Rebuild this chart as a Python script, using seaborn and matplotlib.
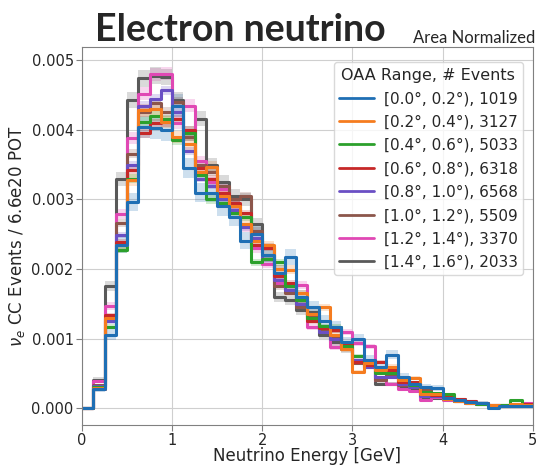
import numpy as np
import pandas as pd
import matplotlib
matplotlib.use("Agg")
import matplotlib.pyplot as plt
from matplotlib.lines import Line2D
import seaborn as sns

# ---------------- data ----------------
bin_width = 0.125
energy_min = 0.0
energy_max = 5.0

labels = ["[0.0°, 0.2°), 1019", "[0.2°, 0.4°), 3127", "[0.4°, 0.6°), 5033",
          "[0.6°, 0.8°), 6318", "[0.8°, 1.0°), 6568", "[1.0°, 1.2°), 5509",
          "[1.2°, 1.4°), 3370", "[1.4°, 1.6°), 2033"]
n_events = [1019, 3127, 5033, 6318, 6568, 5509, 3370, 2033]

# values in units of 1e-4, one per 0.125 GeV bin from 0 to 5 GeV
blue = [0.0, 2.8, 10.6, 23.5, 29.6, 40.4, 40.2, 40.0, 43.5, 34.5,
        31.0, 31.0, 29.0, 27.5, 24.1, 25.0, 22.0, 19.5, 21.7, 16.0,
        14.5, 12.5, 11.7, 9.5, 9.9, 7.0, 6.0, 7.7, 4.5, 3.5,
        3.1, 2.9, 1.5, 1.2, 0.9, 0.8, 0.0, 0.3, 0.4, 0.4]
orange = [0.0, 2.9, 13.0, 23.4, 32.8, 42.8, 43.0, 41.1, 39.0, 38.0,
          34.0, 34.7, 30.5, 29.0, 26.5, 24.0, 23.4, 20.0, 19.9, 16.5,
          13.5, 14.5, 10.5, 8.5, 5.2, 6.5, 5.5, 6.0, 4.0, 4.3,
          2.0, 2.0, 1.4, 1.0, 0.8, 0.7, 0.5, 0.4, 0.6, 0.5]
green = [0.0, 3.0, 11.7, 22.8, 33.0, 41.1, 42.0, 41.5, 38.5, 39.5,
         33.5, 30.0, 29.5, 28.0, 27.5, 21.0, 21.5, 21.0, 17.5, 15.5,
         13.0, 11.8, 11.7, 9.0, 7.5, 6.8, 5.0, 5.0, 4.3, 3.3,
         2.3, 2.2, 2.0, 1.1, 0.9, 0.6, 0.4, 0.5, 1.2, 0.4]
red = [0.0, 2.8, 13.4, 23.9, 34.2, 39.5, 41.0, 41.1, 41.5, 40.0,
       34.5, 33.0, 31.0, 29.5, 28.0, 23.5, 23.0, 19.0, 18.0, 15.5,
       12.5, 11.5, 11.2, 9.3, 6.7, 6.2, 6.7, 5.5, 3.8, 3.8,
       2.0, 1.9, 1.6, 1.3, 1.0, 0.8, 0.5, 0.4, 0.4, 0.6]
purple = [0.0, 3.2, 12.5, 24.9, 35.0, 43.5, 44.5, 45.7, 42.5, 37.0,
          33.0, 32.0, 30.0, 28.5, 26.0, 24.5, 21.5, 18.5, 17.0, 15.0,
          12.8, 11.0, 10.0, 9.2, 7.0, 6.0, 4.5, 4.5, 3.5, 3.0,
          1.8, 1.8, 1.4, 1.0, 0.8, 0.7, 0.4, 0.5, 0.5, 0.5]
brown = [0.0, 3.3, 13.0, 26.6, 36.6, 42.5, 43.8, 42.6, 44.0, 39.0,
         35.0, 34.0, 32.0, 30.0, 30.5, 25.5, 23.2, 17.5, 16.5, 14.5,
         13.2, 11.2, 10.2, 8.8, 6.5, 6.3, 4.0, 4.8, 3.3, 3.2,
         2.6, 1.7, 1.8, 1.3, 0.9, 0.6, 0.5, 0.3, 0.6, 0.4]
pink = [0.0, 3.9, 14.7, 27.9, 38.8, 45.2, 48.0, 48.1, 41.0, 43.5,
        35.5, 32.5, 31.5, 29.0, 26.0, 23.0, 20.8, 18.0, 17.0, 17.7,
        11.7, 11.5, 8.8, 11.0, 9.4, 8.9, 4.0, 3.5, 2.8, 2.5,
        1.2, 1.6, 1.2, 1.1, 1.1, 0.8, 0.4, 0.4, 0.3, 0.8]
gray = [0.0, 4.1, 17.6, 32.9, 44.3, 47.4, 47.8, 47.6, 44.3, 39.5,
        41.6, 35.0, 32.5, 30.5, 30.0, 26.5, 22.0, 16.0, 15.5, 14.1,
        13.8, 10.5, 9.5, 8.5, 6.7, 6.0, 3.5, 3.5, 2.9, 2.6,
        1.5, 1.5, 1.6, 1.2, 0.8, 0.6, 0.5, 0.5, 0.4, 0.5]
series = [blue, orange, green, red, purple, brown, pink, gray]
value_scale = 1e-4
band_constant = 6.0e-3   # Poisson-like band: sqrt(value * const / N)

colors = ["#1f6fb4", "#f57c1f", "#2ca02c", "#c62828", "#6a4fc4",
          "#8c564b", "#e048b4", "#595959"]

# ---------------- build the table ----------------
edges = np.linspace(energy_min, energy_max, len(blue) + 1)
centers = edges[:-1] + bin_width / 2
rows = []
for lab, vals in zip(labels, series):
    for c, v in zip(centers, vals):
        rows.append({"energy": c, "value": v * value_scale, "range": lab})
df = pd.DataFrame(rows)

# ---------------- style ----------------
sns.set_style("whitegrid", {
    "axes.edgecolor": "#808080",
    "grid.color": "#cfcfcf",
    "xtick.bottom": True,
    "ytick.left": True,
})
plt.rcParams["font.family"] = "sans-serif"
plt.rcParams["font.sans-serif"] = ["DejaVu Sans"]

fig = plt.figure(figsize=(5.36, 4.66), dpi=100)
ax = fig.add_axes([0.153, 0.088, 0.841, 0.811])

# error bands
for lab, vals, n, col in zip(labels, series, n_events, colors):
    v = np.array(vals) * value_scale
    err = np.sqrt(v * band_constant / n)
    lo = np.append(v - err, (v - err)[-1])
    hi = np.append(v + err, (v + err)[-1])
    ax.fill_between(edges, lo, hi, step="post", color=col, alpha=0.22, lw=0)

sns.histplot(data=df, x="energy", weights="value", hue="range",
             hue_order=labels, palette=colors,
             binwidth=bin_width, binrange=(energy_min, energy_max),
             element="step", fill=False, linewidth=2.2, legend=False, ax=ax)

ax.set_xlim(0, 5)
ax.set_ylim(-0.00024, 0.00519)
ax.set_xticks([0, 1, 2, 3, 4, 5])
ax.set_yticks([0.0, 0.001, 0.002, 0.003, 0.004, 0.005])
ax.yaxis.set_major_formatter(matplotlib.ticker.FormatStrFormatter("%.3f"))
ax.tick_params(axis="both", labelsize=10.5, length=4, color="#808080", pad=2)
ax.set_xlabel("Neutrino Energy [GeV]", fontsize=12, labelpad=-1)
ax.set_ylabel(r"$\nu_e$ CC Events / 6.6e20 POT", fontsize=12, labelpad=3)

handles = [Line2D([], [], color=c, lw=2) for c in colors]
leg = ax.legend(handles, labels, title="OAA Range, # Events", loc="upper right",
                fontsize=11, title_fontsize=11.5, frameon=True,
                handlelength=2.3, borderpad=0.35, labelspacing=0.55,
                handletextpad=0.6, bbox_to_anchor=(0.995, 0.98))
leg.get_frame().set_edgecolor("#d0d0d0")

fig.text(0.448, 0.912, "Electron neutrino", fontsize=27, fontweight="bold",
         ha="center", va="baseline", family=["Lato", "DejaVu Sans"])
fig.text(0.999, 0.908, "Area Normalized", fontsize=12, ha="right",
         va="baseline", family=["Lato", "DejaVu Sans"])

fig.savefig("out.png", dpi=100)
